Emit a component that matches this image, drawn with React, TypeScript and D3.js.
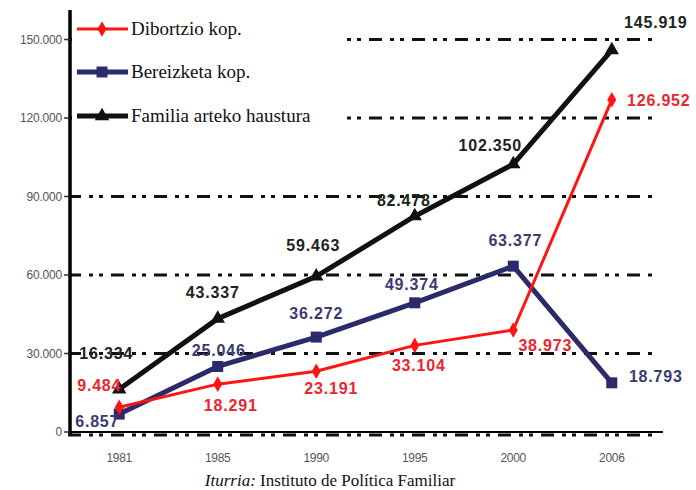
import { type FC } from 'react';
import * as d3 from 'd3';

// datuak (irudiaren etiketetatik irakurrita)
const years = ['1981', '1985', '1990', '1995', '2000', '2006'];
const dibortzio = [9484, 18291, 23191, 33104, 38973, 126952];
const bereizketa = [6857, 25046, 36272, 49374, 63377, 18793];
const familia = [16334, 43337, 59463, 82478, 102350, 145919];
const yTicks = [0, 30000, 60000, 90000, 120000, 150000];

const width = 696;
const height = 490;

// etiketen kokapena puntuarekiko (dx, dy)
const familiaOffsets = [[-13, -36], [-5, -26], [-3, -31], [-11, -16], [-23, -19], [44, -28]];
const bereizketaOffsets = [[-22, 7], [1, -16], [0, -24], [-3, -18], [2, -26], [44, -6]];
const dibortzioOffsets = [[-20, -22], [13, 21], [15, 17], [4, 20], [32, 15], [47, 1]];

const locale = d3.formatLocale({ decimal: ',', thousands: '.', grouping: [3], currency: ['', ''] });
const fmt = locale.format(',d');

const gridDash = '13 8 4 6 4 8';

const Marker: FC<{ kind: string; x: number; y: number; color: string }> = ({ kind, x, y, color }) => {
  if (kind === 'diamond') {
    const p = d3.symbol(d3.symbolDiamond, 70)()!;
    return <path d={p} transform={`translate(${x},${y})`} fill={color} />;
  }
  if (kind === 'square') {
    return <rect x={x - 5.5} y={y - 5.5} width={11} height={11} fill={color} />;
  }
  const p = d3.symbol(d3.symbolTriangle, 90)()!;
  return <path d={p} transform={`translate(${x},${y})`} fill={color} />;
};

const App: FC = () => {
  const x = d3.scalePoint<string>().domain(years).range([68, 663]).padding(0.52);
  const y = d3.scaleLinear().domain([0, 150000]).range([432, 39.5]);

  const line = d3
    .line<number>()
    .x((_, i) => x(years[i])!)
    .y((d) => y(d));

  const series = [
    { name: 'Familia arteko haustura', values: familia, color: '#111111', label: '#222222', width: 5, kind: 'triangle', offsets: familiaOffsets },
    { name: 'Bereizketa kop.', values: bereizketa, color: '#2b2a6b', label: '#3b3a72', width: 5, kind: 'square', offsets: bereizketaOffsets },
    { name: 'Dibortzio kop.', values: dibortzio, color: '#ff1414', label: '#ea2630', width: 3, kind: 'diamond', offsets: dibortzioOffsets },
  ];
  // legendaren ordena
  const legend = [series[2], series[1], series[0]];
  const legendY = [29, 72, 116];

  return (
    <svg width={width} height={height} style={{ position: 'absolute', left: 0, top: 0, background: '#fff' }}>
      {/* saretak */}
      {yTicks.map((t) => (
        <line key={'g' + t} x1={68} x2={658} y1={y(t) + (t === 0 ? 3 : 0)} y2={y(t) + (t === 0 ? 3 : 0)}
          stroke="#111" strokeWidth={3} strokeDasharray={gridDash} />
      ))}
      {/* legendaren atzealdea */}
      <rect x={72} y={8} width={268} height={124} fill="#fff" />
      {/* ardatzak */}
      <line x1={70} x2={70} y1={10} y2={434} stroke="#000" strokeWidth={3.5} />
      <line x1={68} x2={663} y1={y(0)} y2={y(0)} stroke="#000" strokeWidth={2} />
      {yTicks.map((t) => (
        <g key={'t' + t}>
          <line x1={64} x2={70} y1={y(t)} y2={y(t)} stroke="#333" strokeWidth={1.5} />
          <text x={62} y={y(t)} dy="0.35em" textAnchor="end" fontFamily="Liberation Sans, Arial, sans-serif"
            fontSize={12} fill="#555" letterSpacing={-0.2}>{fmt(t)}</text>
        </g>
      ))}
      {years.map((yr) => (
        <text key={yr} x={x(yr)} y={462} textAnchor="middle" fontFamily="Liberation Sans, Arial, sans-serif"
          fontSize={12} fill="#555" letterSpacing={-0.3}>{yr}</text>
      ))}

      {/* lerroak */}
      {series.map((s) => (
        <g key={s.name}>
          <path d={line(s.values)!} fill="none" stroke={s.color} strokeWidth={s.width} strokeLinejoin="round" />
          {s.values.map((v, i) => (
            <Marker key={i} kind={s.kind} x={x(years[i])!} y={y(v)} color={s.color} />
          ))}
        </g>
      ))}

      {/* balio etiketak */}
      {series.map((s) =>
        s.values.map((v, i) => (
          <text key={s.name + i} x={x(years[i])! + s.offsets[i][0]} y={y(v) + s.offsets[i][1]} dy="0.35em"
            textAnchor="middle" fontFamily="Liberation Sans, Arial, sans-serif" fontWeight="bold" fontSize={16}
            letterSpacing={0.8} fill={s.label}>{fmt(v)}</text>
        ))
      )}

      {/* legenda */}
      {legend.map((s, i) => (
        <g key={'l' + s.name}>
          <line x1={77} x2={128} y1={legendY[i]} y2={legendY[i]} stroke={s.color} strokeWidth={s.width} />
          <Marker kind={s.kind} x={102} y={legendY[i]} color={s.color} />
          <text x={131} y={legendY[i]} dy="0.33em" fontFamily="Liberation Serif, Times New Roman, serif"
            fontSize={19} fill="#111">{s.name}</text>
        </g>
      ))}

      {/* iturria */}
      <text x={330} y={486} textAnchor="middle" fontFamily="Liberation Serif, Times New Roman, serif" fontSize={17} fill="#111">
        <tspan fontStyle="italic">Iturria:</tspan> Instituto de Política Familiar
      </text>
    </svg>
  );
};

export default App;
